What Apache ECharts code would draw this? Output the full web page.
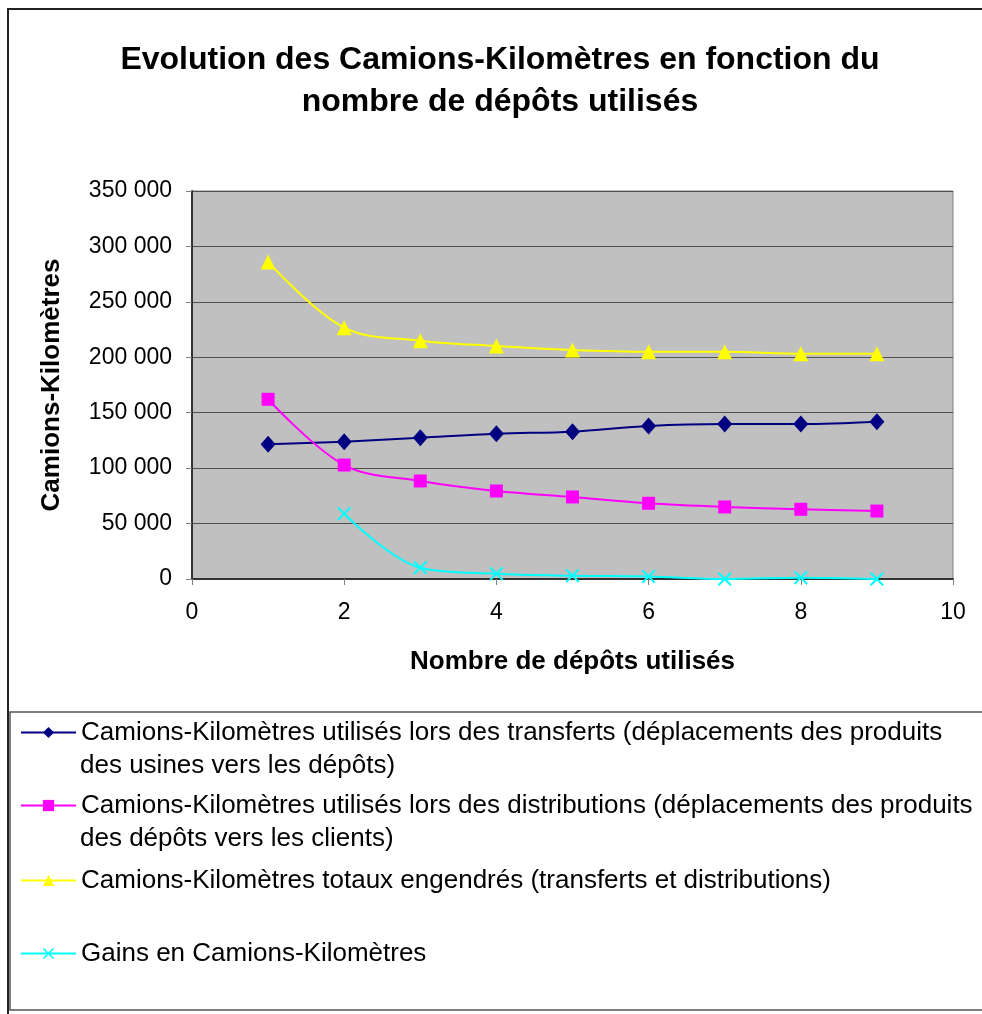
<!DOCTYPE html>
<html>
<head>
<meta charset="utf-8">
<script src="https://cdn.jsdelivr.net/npm/echarts@6/dist/echarts.min.js"></script>
<style>
  html, body { margin: 0; padding: 0; background: #fff; }
  #main { width: 982px; height: 1014px; }
</style>
</head>
<body>
<div id="main"></div>
<script>
// nombre de dépôts
const depots = [1, 2, 3, 4, 5, 6, 7, 8, 9];
const transferts = [121500, 123900, 127500, 131100, 132900, 138000, 139800, 139800, 141900];
const distributions = [162100, 102800, 88400, 79400, 74000, 68300, 65000, 62900, 61300];
const totaux = [286000, 226700, 215000, 210200, 206600, 205000, 205000, 203200, 203200];
const gains = [null, 58900, 10200, 4800, 3000, 2200, 0, 1200, 0];

const seriesNames = [
  "Camions-Kilomètres utilisés lors des transferts (déplacements des produits\ndes usines vers les dépôts)",
  "Camions-Kilomètres utilisés lors des distributions (déplacements des produits\ndes dépôts vers les clients)",
  "Camions-Kilomètres totaux engendrés (transferts et distributions)",
  "Gains en Camions-Kilomètres",
];

const FONT = "Liberation Sans, Arial, sans-serif";
const xMark = "path://M0,1L1,0L5,4L9,0L10,1L6,5L10,9L9,10L5,6L1,10L0,9L4,5Z";
const legendTops = [716, 789, 864, 937];

function pairs(values) {
  return depots.map((d, i) => [d, values[i]]).filter((p) => p[1] !== null);
}

function fmt(v) {
  return String(v).replace(/\B(?=(\d{3})+(?!\d))/g, " ");
}

// une légende par série, seule la 1re ligne à côté du symbole
function legendFor(name, top) {
  return {
    data: [name],
    left: 20,
    top: top,
    padding: 0,
    selectedMode: false,
    itemWidth: 55,
    itemHeight: 14,
    itemGap: 5,
    formatter: (n) => n.split("\n")[0],
    textStyle: { fontFamily: FONT, fontSize: 26, color: "#000", lineHeight: 33 },
  };
}

// 2e ligne des libellés longs
function secondLine(name, top) {
  return {
    text: name.split("\n")[1],
    left: 80,
    top: top,
    padding: 0,
    textStyle: { fontFamily: FONT, fontSize: 26, fontWeight: "normal", color: "#000", lineHeight: 33 },
  };
}

const chart = echarts.init(document.getElementById("main"));

chart.setOption({
  animation: false,
  backgroundColor: "#fff",
  textStyle: { fontFamily: FONT },
  title: [
    {
      text: "Evolution des Camions-Kilomètres en fonction du\nnombre de dépôts utilisés",
      left: 500,
      top: 39,
      padding: 0,
      textAlign: "center",
      textStyle: {
        fontFamily: FONT,
        fontSize: 32,
        fontWeight: "bold",
        color: "#000",
        lineHeight: 42,
      },
    },
    secondLine(seriesNames[0], legendTops[0] + 33),
    secondLine(seriesNames[1], legendTops[1] + 33),
  ],
  graphic: [
    {
      type: "rect",
      shape: { x: 8, y: 9, width: 1000, height: 1010 },
      style: { fill: "none", stroke: "#222", lineWidth: 2 },
      silent: true,
    },
    {
      type: "rect",
      shape: { x: 10, y: 712, width: 1000, height: 298 },
      style: { fill: "none", stroke: "#555", lineWidth: 1.5 },
      silent: true,
    },
  ],
  legend: seriesNames.map((n, i) => legendFor(n, legendTops[i])),
  grid: {
    left: 192,
    right: 29,
    top: 191,
    bottom: 435,
    show: true,
    backgroundColor: "#c0c0c0",
    borderColor: "#808080",
    borderWidth: 1,
  },
  xAxis: {
    type: "value",
    min: 0,
    max: 10,
    interval: 2,
    name: "Nombre de dépôts utilisés",
    nameLocation: "middle",
    nameGap: 70,
    nameTextStyle: { fontFamily: FONT, fontSize: 26, fontWeight: "bold", color: "#000" },
    axisLine: { show: true, lineStyle: { color: "#333", width: 2 } },
    axisTick: { show: true, length: 6, lineStyle: { color: "#808080", width: 1 } },
    axisLabel: { fontFamily: FONT, fontSize: 23, color: "#000", margin: 22 },
    splitLine: { show: false },
  },
  yAxis: {
    type: "value",
    min: 0,
    max: 350000,
    interval: 50000,
    name: "Camions-Kilomètres",
    nameLocation: "middle",
    nameRotate: 90,
    nameGap: 127,
    nameTextStyle: { fontFamily: FONT, fontSize: 26, fontWeight: "bold", color: "#000" },
    axisLine: { show: true, lineStyle: { color: "#333", width: 2 } },
    axisTick: { show: true, length: 6, lineStyle: { color: "#808080", width: 1 } },
    axisLabel: { fontFamily: FONT, fontSize: 23, color: "#000", margin: 20, formatter: fmt },
    splitLine: { show: true, lineStyle: { color: "#505050", width: 1.2 } },
  },
  series: [
    {
      name: seriesNames[0],
      type: "line",
      data: pairs(transferts),
      smooth: 0.35,
      symbol: "diamond",
      symbolSize: [15, 17],
      itemStyle: { color: "#000080" },
      lineStyle: { color: "#000080", width: 2 },
    },
    {
      name: seriesNames[1],
      type: "line",
      data: pairs(distributions),
      smooth: 0.35,
      symbol: "rect",
      symbolSize: 13,
      itemStyle: { color: "#ff00ff" },
      lineStyle: { color: "#ff00ff", width: 2 },
    },
    {
      name: seriesNames[2],
      type: "line",
      data: pairs(totaux),
      smooth: 0.35,
      symbol: "triangle",
      symbolSize: 15,
      itemStyle: { color: "#ffff00" },
      lineStyle: { color: "#ffff00", width: 2 },
    },
    {
      name: seriesNames[3],
      type: "line",
      data: pairs(gains),
      smooth: 0.35,
      symbol: xMark,
      symbolSize: 14,
      itemStyle: { color: "#00ffff" },
      lineStyle: { color: "#00ffff", width: 2 },
    },
  ],
});

window.addEventListener("resize", () => {
  chart.resize();
});
</script>
</body>
</html>
